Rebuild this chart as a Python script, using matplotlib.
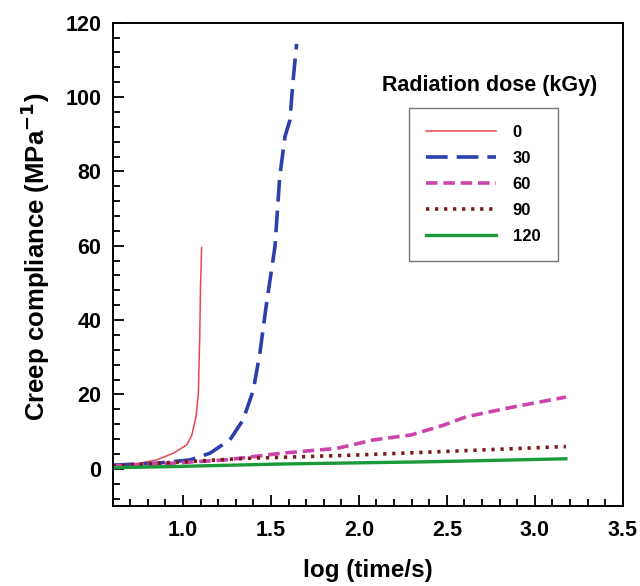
import matplotlib
matplotlib.use('Agg')
import matplotlib.pyplot as plt
from matplotlib.ticker import MultipleLocator

plt.rcParams['font.family'] = ['Liberation Sans', 'DejaVu Sans']
plt.rcParams['font.weight'] = 'bold'
plt.rcParams['mathtext.default'] = 'bf'

# 各辐照剂量下的蠕变柔量数据
x_0 = [0.6, 0.75, 0.85, 0.945, 1.02, 1.05, 1.074, 1.087, 1.095, 1.1, 1.106]
y_0 = [1.0, 1.5, 2.4, 4.2, 6.4, 9.0, 14.0, 20.0, 35.0, 50.0, 59.5]

x_30 = [0.6, 0.85, 1.04, 1.153, 1.267, 1.342, 1.40, 1.437, 1.475, 1.523, 1.55,
        1.58, 1.608, 1.625, 1.646]
y_30 = [1.0, 1.5, 2.4, 4.2, 7.8, 13.2, 21.2, 31.1, 44.5, 59.8, 78.6,
        89.4, 93.8, 104.0, 114.3]

x_60 = [0.6, 0.93, 1.244, 1.56, 1.875, 2.085, 2.296, 2.485, 2.61, 2.884, 3.177]
y_60 = [0.8, 1.5, 2.4, 4.2, 5.5, 7.8, 9.1, 11.8, 14.0, 16.7, 19.3]

x_90 = [0.6, 0.93, 1.35, 1.98, 2.61, 3.177]
y_90 = [0.8, 1.7, 2.8, 3.7, 4.9, 6.0]

x_120 = [0.6, 0.93, 1.56, 2.4, 3.177]
y_120 = [0.3, 0.6, 1.3, 1.9, 2.7]

fig = plt.figure(figsize=(6.4, 5.86), dpi=100)
ax = fig.add_axes([0.176, 0.1365, 0.797, 0.8248])

ax.plot(x_0, y_0, color='#e8474f', lw=1.1, label='0')
ax.plot(x_30, y_30, color='#2b3fae', lw=2.6, dashes=(6, 2.5), label='30')
ax.plot(x_60, y_60, color='#cc44aa', lw=2.6, dashes=(3.2, 1.6), label='60')
ax.plot(x_90, y_90, color='#7a1a1a', lw=2.6, dashes=(0.9, 1.6), label='90')
ax.plot(x_120, y_120, color='#1a9a3a', lw=2.4, label='120')

ax.set_xlim(0.6, 3.5)
ax.set_ylim(-10, 120)
ax.xaxis.set_major_locator(MultipleLocator(0.5))
ax.xaxis.set_minor_locator(MultipleLocator(0.1))
ax.yaxis.set_major_locator(MultipleLocator(20))
ax.yaxis.set_minor_locator(MultipleLocator(4))
ax.tick_params(which='both', direction='in', width=1.3, labelsize=15.5)
ax.tick_params(which='major', length=8)
ax.tick_params(axis='x', which='major', pad=10)
ax.tick_params(axis='y', which='major', pad=8)
ax.tick_params(which='minor', length=5)
for s in ax.spines.values():
    s.set_linewidth(1.4)

ax.set_xlabel('log (time/s)', fontsize=17.5, fontweight='bold', labelpad=13)
ax.set_ylabel('Creep compliance (MPa$^{-1}$)', fontsize=18.5, fontweight='bold')
ax.yaxis.set_label_coords(-0.119, 0.515)

ax.text(0.74, 0.871, 'Radiation dose (kGy)', transform=ax.transAxes,
        ha='center', va='center', fontsize=15.5, fontweight='bold')
leg = ax.legend(loc='upper left', bbox_to_anchor=(0.581, 0.8235), fontsize=12,
                frameon=True, fancybox=False, handlelength=4.2, labelspacing=0.66,
                borderpad=1.03, handletextpad=1.0, borderaxespad=0)
leg.get_frame().set_edgecolor('#555555')
leg.get_frame().set_linewidth(1.0)

plt.savefig('out.png', dpi=100)
